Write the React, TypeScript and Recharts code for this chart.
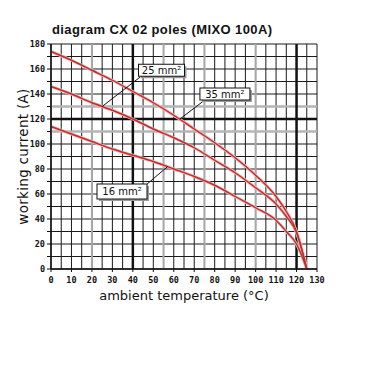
import React from 'react';
import {
  LineChart,
  Line,
  XAxis,
  YAxis,
  CartesianGrid,
  ReferenceLine,
  ReferenceDot,
} from 'recharts';

// temperature (°C) and working current (A) per cable section
const TEMP = [0, 10, 20, 30, 40, 50, 60, 70, 80, 90, 100, 110, 115, 120, 125];
const I_16 = [114, 108, 102, 96, 91, 86, 80, 74, 67, 58, 49, 39, 30, 20, 0];
const I_25 = [146, 140, 133, 127, 120, 112, 105, 97, 87, 77, 65, 52, 42, 29, 0];
const I_35 = [174, 167, 159, 151, 142, 133, 123, 112, 101, 89, 75, 58, 46, 30, 0];

const X_TICKS = [0, 10, 20, 30, 40, 50, 60, 70, 80, 90, 100, 110, 120, 130];
const Y_TICKS = [0, 10, 20, 30, 40, 50, 60, 70, 80, 90, 100, 110, 120, 130, 140, 150, 160, 170, 180];
const GRID_X = [0, 5, 10, 15, 20, 25, 30, 35, 40, 45, 50, 55, 60, 65, 70, 75, 80, 85, 90, 95, 100, 105, 110, 115, 120, 125, 130];
const THICK_X = [40, 120];
const THICK_Y = [120];
const GRAY_X = [20, 55, 75, 100];
const GRAY_Y = [110, 130];

// callouts: label, point on curve, box centre
const CALLOUTS = [
  { label: '25 mm²', px: 25, py: 130, bx: 54, by: 159, ex: 43.5, ey: 153.5, w: 46, h: 12 },
  { label: '35 mm²', px: 63, py: 120, bx: 85, by: 140, ex: 75, ey: 135, w: 50, h: 12 },
  { label: '16 mm²', px: 57, py: 82, bx: 34.7, by: 62, ex: 47, ey: 68, w: 50, h: 15 },
];

const data = TEMP.map((t, i) => ({ t, a16: I_16[i], a25: I_25[i], a35: I_35[i] }));

const RED = '#b83030';
const PINK = '#f4b4b4';
const tickStyle = { fontSize: 8.5, fontWeight: 700, fill: '#111', fontFamily: 'DejaVu Sans Mono' };

function CalloutBox(props: any) {
  const { cx, cy, w, h, label } = props;
  return (
    <g>
      <rect x={cx - w / 2 + 2} y={cy - h / 2 + 2} width={w} height={h} fill="#9a9a9a" />
      <rect x={cx - w / 2} y={cy - h / 2} width={w} height={h} fill="#fff" stroke="#111" strokeWidth={1} />
      <text x={cx} y={cy + 3.5} textAnchor="middle" fontSize={10} fontFamily="DejaVu Sans" fill="#111">
        {label}
      </text>
    </g>
  );
}

export default function App() {
  return (
    <div style={{ position: 'relative', width: 340, height: 310, fontFamily: 'DejaVu Sans' }}>
      <div
        style={{
          position: 'absolute',
          left: 44,
          top: 14,
          fontSize: 13,
          letterSpacing: 0.4,
          fontWeight: 700,
          fontFamily: 'Liberation Sans',
          color: '#111',
          whiteSpace: 'nowrap',
        }}
      >
        diagram CX 02 poles (MIXO 100A)
      </div>
      <LineChart width={340} height={310} data={data} margin={{ top: 36, right: 31, left: 0, bottom: 9 }}>
        <CartesianGrid
          verticalValues={GRID_X}
          horizontalValues={Y_TICKS}
          stroke="#1a1a1a"
          strokeDasharray=""
        />
        {GRAY_X.map((x) => (
          <ReferenceLine key={'gx' + x} x={x} stroke="#a8a8a8" strokeWidth={2} />
        ))}
        {GRAY_Y.map((y) => (
          <ReferenceLine key={'gy' + y} y={y} stroke="#b4b4b4" strokeWidth={2.5} />
        ))}
        {THICK_X.map((x) => (
          <ReferenceLine key={'tx' + x} x={x} stroke="#111" strokeWidth={2.5} />
        ))}
        {THICK_Y.map((y) => (
          <ReferenceLine key={'ty' + y} y={y} stroke="#111" strokeWidth={2.5} />
        ))}
        <XAxis
          dataKey="t"
          type="number"
          domain={[0, 130]}
          ticks={X_TICKS}
          interval={0}
          height={40}
          tick={tickStyle}
          tickSize={3}
          tickMargin={5}
          axisLine={{ stroke: '#111', strokeWidth: 1.5 }}
          tickLine={{ stroke: '#111' }}
          label={{
            value: 'ambient temperature (°C)',
            position: 'insideBottom',
            offset: 9,
            style: { fontSize: 13, fill: '#111', fontFamily: 'DejaVu Sans' },
          }}
        />
        <YAxis
          type="number"
          domain={[0, 180]}
          ticks={Y_TICKS}
          interval={0}
          width={43}
          tick={tickStyle}
          tickSize={4}
          tickFormatter={(v: number) => (v % 20 === 0 ? String(v) : '')}
          axisLine={{ stroke: '#111', strokeWidth: 1.5 }}
          tickLine={{ stroke: '#111' }}
          label={{
            value: 'working current (A)',
            angle: -90,
            position: 'insideLeft',
            offset: 15,
            style: { textAnchor: 'middle', fontSize: 13.5, letterSpacing: 0.3, fill: '#111', fontFamily: 'DejaVu Sans' },
          }}
        />
        {['a16', 'a25', 'a35'].map((k) => (
          <Line
            key={k + 'halo'}
            type="monotone"
            dataKey={k}
            stroke={PINK}
            strokeWidth={3}
            dot={false}
            activeDot={false}
            isAnimationActive={false}
          />
        ))}
        {['a16', 'a25', 'a35'].map((k) => (
          <Line
            key={k}
            type="monotone"
            dataKey={k}
            stroke={RED}
            strokeWidth={1.4}
            dot={false}
            activeDot={false}
            isAnimationActive={false}
          />
        ))}
        {CALLOUTS.map((c) => (
          <ReferenceLine
            key={'ptr' + c.label}
            segment={[
              { x: c.px, y: c.py },
              { x: c.ex, y: c.ey },
            ]}
            stroke="#111"
            strokeWidth={1}
          />
        ))}
        {CALLOUTS.map((c) => (
          <ReferenceDot
            key={'box' + c.label}
            x={c.bx}
            y={c.by}
            r={0}
            shape={(p: any) => <CalloutBox {...p} w={c.w} h={c.h} label={c.label} />}
          />
        ))}
      </LineChart>
    </div>
  );
}
